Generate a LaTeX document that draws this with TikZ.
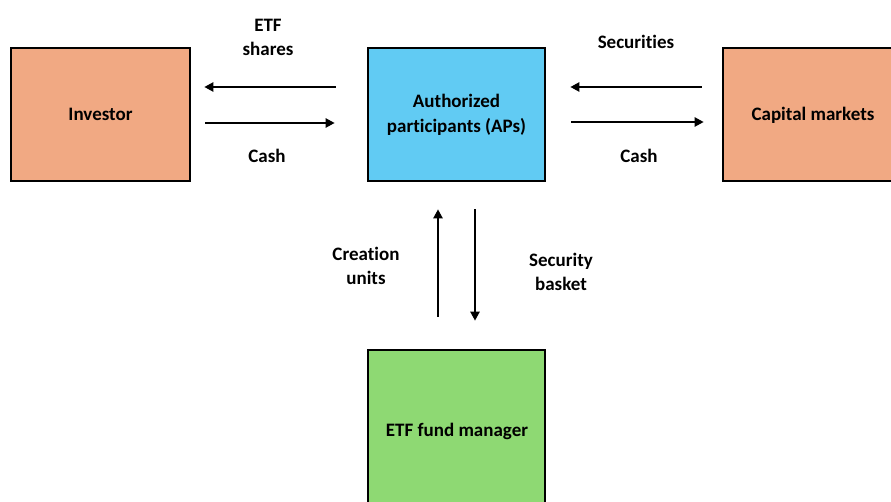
\documentclass[tikz,border=0pt]{standalone}
\usepackage{fontspec}
\setmainfont[Ligatures=NoCommon]{Carlito}
\usetikzlibrary{arrows.meta}
\definecolor{orangebox}{HTML}{F1A983}
\definecolor{bluebox}{HTML}{61CBF3}
\definecolor{greenbox}{HTML}{8ED973}
\begin{document}
\begin{tikzpicture}[x=1pt,y=-1pt,
  box/.style={draw=black,line width=2.6pt,inner sep=0pt,font=\fontsize{19}{25}\selectfont\bfseries,align=center},
  lbl/.style={font=\fontsize{19}{24}\selectfont\bfseries,align=center,inner sep=0pt},
  arr/.style={line width=2.2pt,-{Triangle[length=9pt,width=9pt]}}]
\useasboundingbox (0,0) rectangle (891,502);
\clip (0,0) rectangle (891,502);
\fill[white] (0,0) rectangle (891,502);
\node[box,fill=orangebox,minimum width=179pt,minimum height=133pt] (inv) at (100.5,114.5) {Investor};
\node[box,fill=bluebox,minimum width=177pt,minimum height=133pt] (ap) at (456.5,114.5) {Authorized\\participants (APs)};
\node[box,fill=orangebox,minimum width=190pt,minimum height=133pt] (cap) at (818,114.5) {};
\node[lbl] (captxt) at (813,115) {Capital markets};
\node[box,fill=greenbox,minimum width=177pt,minimum height=180pt] (fund) at (456.5,440) {};
\node[lbl] (fundtxt) at (457,431) {ETF fund manager};
% horizontal arrows
\draw[arr,shorten <=31pt,shorten >=13pt] ([yshift=27.5pt]ap.west) -- ([yshift=27.5pt]inv.east);
\draw[arr,shorten <=14pt,shorten >=32pt] ([yshift=-8.5pt]inv.east) -- ([yshift=-8.5pt]ap.west);
\draw[arr,shorten <=20pt,shorten >=24pt] ([yshift=27.5pt]cap.west) -- ([yshift=27.5pt]ap.east);
\draw[arr,shorten <=25pt,shorten >=18pt] ([yshift=-7.5pt]ap.east) -- ([yshift=-7.5pt]cap.west);
% vertical arrows
\draw[arr,shorten <=32pt,shorten >=27pt] ([xshift=-18.5pt]fund.north) -- ([xshift=-18.5pt]ap.south);
\draw[arr,shorten <=27pt,shorten >=28pt] ([xshift=18.5pt]ap.south) -- ([xshift=18.5pt]fund.north);
% labels
\node[lbl] (l1) at (268,37.5) {ETF\\shares};
\node[lbl] (l2) at (267,156) {Cash};
\node[lbl] (l3) at (636,42) {Securities};
\node[lbl] (l4) at (639,156) {Cash};
\node[lbl] (l5) at (366,266) {Creation\\units};
\node[lbl] (l6) at (561,272) {Security\\basket};
\end{tikzpicture}
\end{document}
